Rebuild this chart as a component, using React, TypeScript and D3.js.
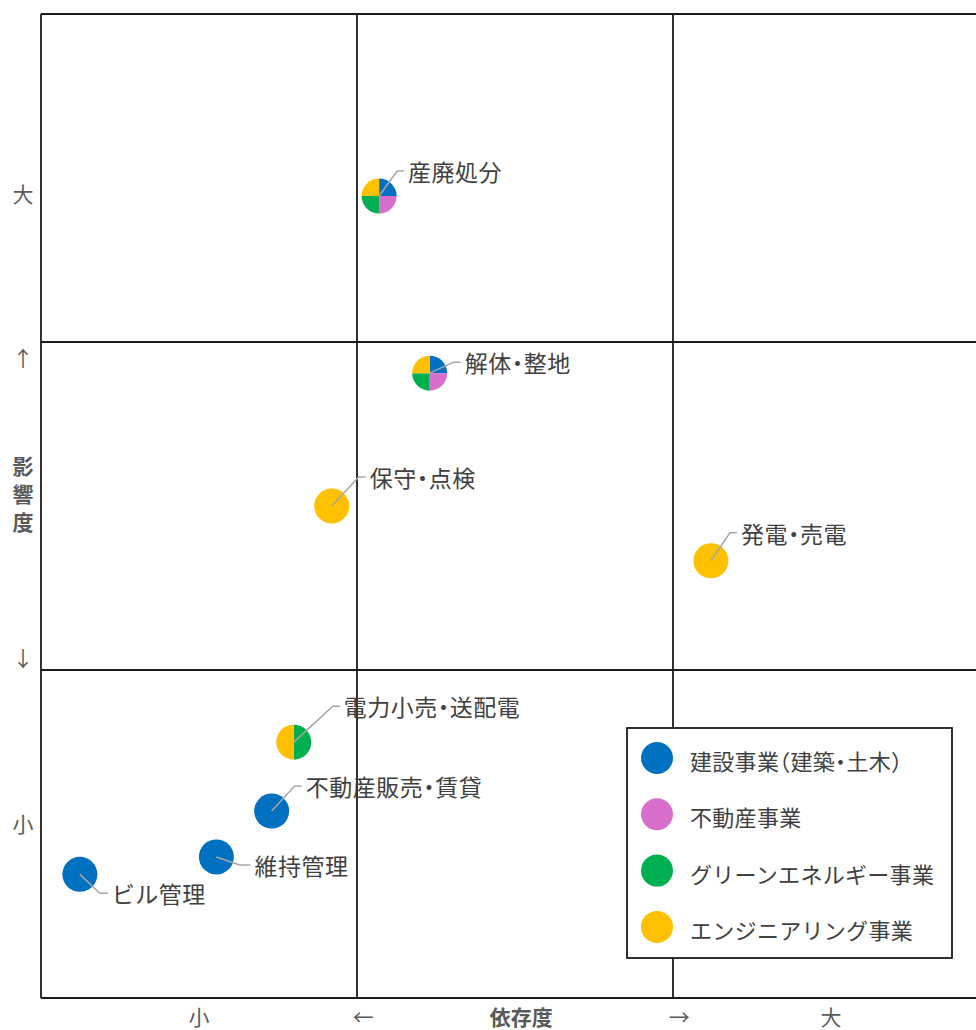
import React from "react";
import * as d3 from "d3";

// ---- Data ----
const segments = ["建設事業（建築・土木）", "不動産事業", "グリーンエネルギー事業", "エンジニアリング事業"];
const segmentColors = ["#0070C0", "#D86ECC", "#00B050", "#FFC000"];

const itemNames = ["産廃処分", "解体・整地", "保守・点検", "発電・売電", "電力小売・送配電", "不動産販売・賃貸", "維持管理", "ビル管理"];
const dependence = [1.07, 1.23, 0.92, 2.12, 0.80, 0.73, 0.555, 0.123];
const impact = [2.445, 1.905, 1.5, 1.333, 0.78, 0.57, 0.43, 0.377];
// segment membership (indices into segments), in clockwise order from 12 o'clock
const itemSegments = [[0, 1, 2, 3], [0, 1, 2, 3], [3], [3], [2, 3], [0], [0], [0]];
// leader elbow offsets in px relative to the marker, and horizontal tail length
const labelElbow = [[18, -25], [24, -11], [27, -29], [19, -28], [39, -36], [23, -25], [23, 8], [20, 19]];
const labelTail = [7, 7, 7, 7, 7, 7, 11, 8];

const xAxisLabels = ["小", "←", "依存度", "→", "大"];
const xAxisLabelPos = [0.5, 1.02, 1.52, 2.02, 2.5];
const yAxisLabels = ["大", "↑", "影", "響", "度", "↓", "小"];
const yAxisLabelPos = [2.455, 1.955, 1.625, 1.54, 1.455, 1.04, 0.535];
const boldAxisLabels = ["依存度", "影", "響", "度"];

// ---- Layout ----
const W = 976, H = 1030;
const left = 41, right = 989, top = 14, bottom = 998;
const x = d3.scaleLinear().domain([0, 3]).range([left, right]);
const y = d3.scaleLinear().domain([0, 3]).range([bottom, top]);
const R = 17.5;
const FONT = "'Noto Sans CJK JP', 'Noto Sans', sans-serif";
const halfPunct = { fontFeatureSettings: "'halt'" } as React.CSSProperties;

export default function App() {
  const arc = d3.arc<any>().innerRadius(0).outerRadius(R);
  const pie = d3.pie<number>().sort(null).value(() => 1);
  const gridX = [0, 1, 2, 3];
  const gridY = [0, 1, 2, 3];
  return (
    <svg width={W} height={H} style={{ position: "absolute", left: 0, top: 0, background: "#fff" }} fontFamily={FONT}>
      {/* grid */}
      {gridX.map((v) => (
        <line key={"gx" + v} x1={x(v)} x2={x(v)} y1={top} y2={bottom} stroke="#1a1a1a" strokeWidth={1.8} />
      ))}
      {gridY.map((v) => (
        <line key={"gy" + v} x1={left} x2={right} y1={y(v)} y2={y(v)} stroke="#1a1a1a" strokeWidth={1.8} />
      ))}

      {/* axis labels */}
      {xAxisLabels.map((t, i) => (
        <text key={"xl" + i} x={x(xAxisLabelPos[i])} y={1016} textAnchor="middle" dominantBaseline="central"
          fontSize={21} fill="#595959" fontWeight={boldAxisLabels.includes(t) ? 700 : 400}>{t}</text>
      ))}
      {yAxisLabels.map((t, i) => (
        <text key={"yl" + i} x={23} y={y(yAxisLabelPos[i])} textAnchor="middle" dominantBaseline="central"
          fontSize={21} fill="#595959" fontWeight={boldAxisLabels.includes(t) ? 700 : 400}>{t}</text>
      ))}

      {/* markers */}
      {itemNames.map((name, i) => {
        const cx = x(dependence[i]);
        const cy = y(impact[i]);
        const segs = itemSegments[i];
        return (
          <g key={"m" + i} transform={`translate(${cx},${cy})`}>
            {segs.length === 1 ? (
              <circle r={R} fill={segmentColors[segs[0]]} />
            ) : (
              pie(segs.map(() => 1)).map((a, j) => (
                <path key={j} d={arc(a) as string} fill={segmentColors[segs[j]]} />
              ))
            )}
          </g>
        );
      })}

      {/* leader lines and labels */}
      {itemNames.map((name, i) => {
        const cx = x(dependence[i]);
        const cy = y(impact[i]);
        const [ex, ey] = labelElbow[i];
        const tail = labelTail[i];
        return (
          <g key={"l" + i}>
            <polyline points={`${cx},${cy} ${cx + ex},${cy + ey} ${cx + ex + tail},${cy + ey}`} fill="none" stroke="#A6A6A6" strokeWidth={1.5} />
            <text x={cx + ex + tail + 4} y={cy + ey} dominantBaseline="central" fontSize={23} letterSpacing={0.5} fill="#404040" style={halfPunct}>{name}</text>
          </g>
        );
      })}

      {/* legend */}
      <rect x={627} y={728} width={325} height={230} fill="#fff" stroke="#1a1a1a" strokeWidth={1.8} />
      {segments.map((s, i) => (
        <g key={"lg" + i}>
          <circle cx={657} cy={758 + i * 56.3} r={16} fill={segmentColors[i]} />
          <text x={690} y={760 + i * 56.3} dominantBaseline="central" fontSize={22} letterSpacing={0.3} fill="#404040" style={halfPunct}>{s}</text>
        </g>
      ))}
    </svg>
  );
}
